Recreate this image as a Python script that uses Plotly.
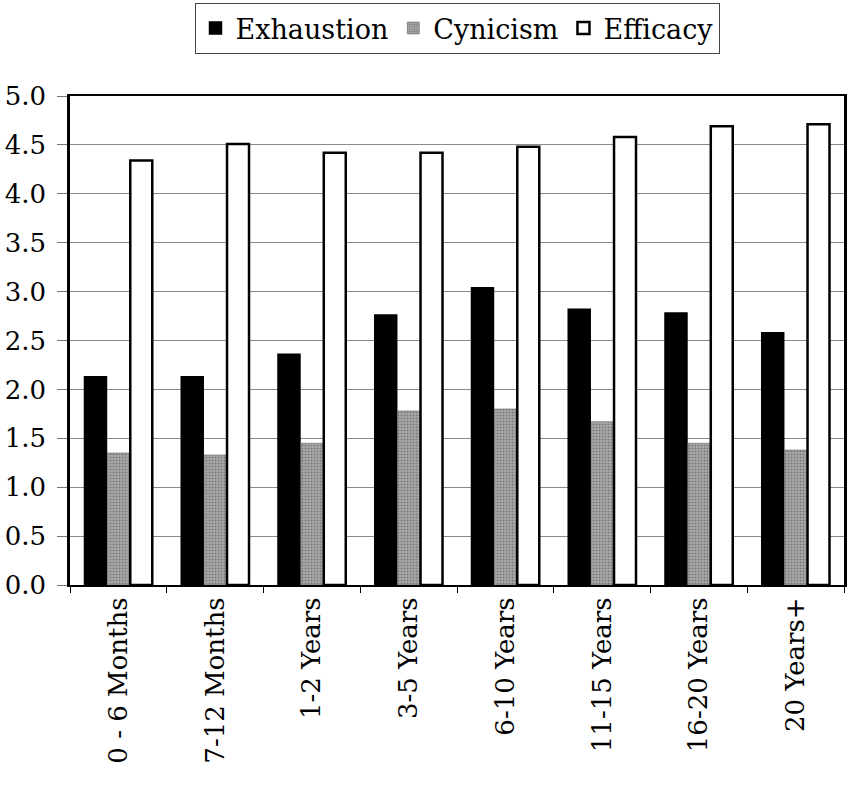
import plotly.graph_objects as go

# Tenure groups on the x axis
categories = ["0 - 6 Months", "7-12 Months", "1-2 Years", "3-5 Years",
              "6-10 Years", "11-15 Years", "16-20 Years", "20 Years+"]

# Mean burnout subscale scores per tenure group
exhaustion = [2.13, 2.13, 2.36, 2.76, 3.04, 2.82, 2.78, 2.58]
cynicism = [1.35, 1.33, 1.45, 1.78, 1.80, 1.67, 1.45, 1.38]
efficacy = [4.34, 4.51, 4.42, 4.42, 4.48, 4.58, 4.69, 4.71]

y_ticks = [0.0, 0.5, 1.0, 1.5, 2.0, 2.5, 3.0, 3.5, 4.0, 4.5, 5.0]

FONT = "DejaVu Serif, Liberation Serif, serif"

fig = go.Figure()
fig.add_trace(go.Bar(
    name="Exhaustion", x=categories, y=exhaustion,
    marker=dict(color="black", line=dict(color="black", width=1.5)),
))
fig.add_trace(go.Bar(
    name="Cynicism", x=categories, y=cynicism,
    marker=dict(color="#9a9a9a", line=dict(color="#555555", width=0.5),
                pattern=dict(shape=".", fgcolor="#4a4a4a", bgcolor="#ababab",
                             size=3, solidity=0.4)),
))
fig.add_trace(go.Bar(
    name="Efficacy", x=categories, y=efficacy,
    marker=dict(color="white", line=dict(color="black", width=2.5)),
))

fig.update_layout(
    width=850, height=785,
    margin=dict(l=70, r=3, t=90, b=200),
    paper_bgcolor="white", plot_bgcolor="white",
    font=dict(family=FONT, size=26, color="black"),
    barmode="group", bargap=0.29, bargroupgap=0.04,
    showlegend=True,
    legend=dict(
        orientation="h", x=0.5, xanchor="center", y=1.086, yanchor="bottom",
        bordercolor="#444444", borderwidth=1, bgcolor="white",
        font=dict(family=FONT, size=27, color="black"),
        itemwidth=30, tracegroupgap=0,
    ),
    xaxis=dict(
        type="category", tickangle=-90, tickson="boundaries",
        ticks="outside", ticklen=6, tickcolor="black", tickwidth=1,
        showline=True, linecolor="black", linewidth=2, mirror=True,
        showgrid=False, tickfont=dict(family=FONT, size=26),
    ),
    yaxis=dict(
        range=[0, 5.0], tickvals=y_ticks,
        ticktext=[f"{v:.1f}" for v in y_ticks],
        ticks="outside", ticklen=10, tickcolor="#777", tickwidth=1,
        ticklabelstandoff=6,
        showline=True, linecolor="black", linewidth=2.5, mirror=True,
        showgrid=True, gridcolor="#8a8a8a", gridwidth=1,
        zeroline=False, tickfont=dict(family=FONT, size=26),
    ),
)

fig.write_html("out.html")
